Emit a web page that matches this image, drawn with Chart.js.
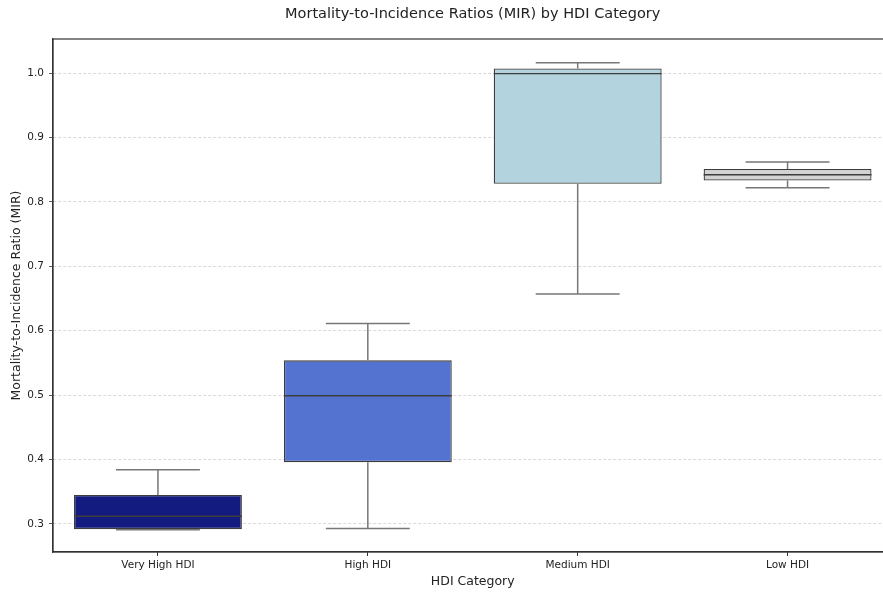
<!DOCTYPE html>
<html>
<head>
<meta charset="utf-8">
<script src="https://cdn.jsdelivr.net/npm/chart.js@4"></script>
<style>
  html, body { margin: 0; padding: 0; background: #fff; overflow: hidden; }
  #wrap { width: 883px; height: 592px; overflow: hidden; }
</style>
</head>
<body>
<div id="wrap"><canvas id="mirChart" width="893" height="592"></canvas></div>
<script>
// Data
const categories = ['Very High HDI', 'High HDI', 'Medium HDI', 'Low HDI'];
const whiskerLow = [0.291, 0.293, 0.657, 0.822];
const q1Values = [0.292, 0.396, 0.828, 0.833];
const medians = [0.312, 0.499, 0.999, 0.842];
const q3Values = [0.345, 0.554, 1.007, 0.851];
const whiskerHigh = [0.384, 0.611, 1.016, 0.862];
const yTicks = [0.3, 0.4, 0.5, 0.6, 0.7, 0.8, 0.9, 1.0];
const chartTitle = 'Mortality-to-Incidence Ratios (MIR) by HDI Category';

const boxColors = ['#131a80', '#5472d0', '#b3d4df', '#d3d3d3'];
const edgeColor = '#3d3d3d';
const whiskerColor = '#777777';
const font = 'DejaVu Sans';

// Whiskers, caps, medians, frame and title drawn on top of the floating bars
const boxExtras = {
    id: 'boxExtras',
    afterDatasetsDraw(chart) {
        const ctx = chart.ctx;
        const y = chart.scales.y;
        const meta = chart.getDatasetMeta(0);
        ctx.save();
        meta.data.forEach((bar, i) => {
            const cx = bar.x;
            const half = bar.width / 2;
            const capHalf = half / 2;
            const yLow = y.getPixelForValue(whiskerLow[i]);
            const yQ1 = y.getPixelForValue(q1Values[i]);
            const yQ3 = y.getPixelForValue(q3Values[i]);
            const yHigh = y.getPixelForValue(whiskerHigh[i]);
            const yMed = y.getPixelForValue(medians[i]);

            ctx.strokeStyle = whiskerColor;
            ctx.lineWidth = 1.5;
            ctx.beginPath();
            ctx.moveTo(cx, yQ3); ctx.lineTo(cx, yHigh);
            ctx.moveTo(cx, yQ1); ctx.lineTo(cx, yLow);
            ctx.moveTo(cx - capHalf, yHigh); ctx.lineTo(cx + capHalf, yHigh);
            ctx.moveTo(cx - capHalf, yLow); ctx.lineTo(cx + capHalf, yLow);
            ctx.stroke();

            ctx.strokeStyle = edgeColor;
            ctx.lineWidth = 1.4;
            ctx.beginPath();
            ctx.moveTo(cx - half, yMed); ctx.lineTo(cx + half, yMed);
            ctx.stroke();
        });

        // frame around the plot area
        const a = chart.chartArea;
        ctx.strokeStyle = '#333333';
        ctx.lineWidth = 1.2;
        ctx.strokeRect(a.left, a.top, a.right - a.left, a.bottom - a.top);

        // title centred over the plot area
        ctx.fillStyle = '#222222';
        ctx.font = '14.5px "' + font + '"';
        ctx.textAlign = 'center';
        ctx.textBaseline = 'middle';
        ctx.fillText(chartTitle, (a.left + a.right) / 2, 14.5);
        ctx.restore();
    }
};

const ctx = document.getElementById('mirChart').getContext('2d');
new Chart(ctx, {
    type: 'bar',
    data: {
        labels: categories,
        datasets: [{
            data: categories.map((c, i) => [q1Values[i], q3Values[i]]),
            backgroundColor: boxColors,
            borderColor: edgeColor,
            borderWidth: 1.3,
            borderSkipped: false,
            barPercentage: 0.8,
            categoryPercentage: 1.0
        }]
    },
    options: {
        responsive: false,
        animation: false,
        devicePixelRatio: 1,
        layout: { padding: { top: 39, right: 0.5, bottom: 0, left: 0 } },
        plugins: {
            legend: { display: false },
            tooltip: { enabled: false },
            title: { display: false }
        },
        scales: {
            x: {
                offset: true,
                afterFit(scale) { scale.height = 40; },
                grid: {
                    offset: false,
                    drawOnChartArea: false,
                    drawTicks: true,
                    tickLength: 4,
                    tickColor: '#333333'
                },
                border: { display: true, color: '#333333', width: 1.2 },
                ticks: {
                    color: '#222222',
                    padding: 3,
                    maxRotation: 0,
                    font: { family: font, size: 10.5 }
                },
                title: {
                    display: true,
                    text: 'HDI Category',
                    color: '#222222',
                    font: { family: font, size: 12.5 },
                    padding: { top: 0, bottom: 3 }
                }
            },
            y: {
                min: 0.2565,
                max: 1.0528,
                afterFit(scale) { scale.width = 53; },
                afterBuildTicks(scale) { scale.ticks = yTicks.map(v => ({ value: v })); },
                grid: {
                    color: '#cfcfcf',
                    lineWidth: 0.8,
                    tickLength: 4,
                    tickColor: '#333333',
                    tickBorderDash: []
                },
                border: { display: true, color: '#333333', width: 1.2, dash: [3, 2] },
                ticks: {
                    color: '#222222',
                    padding: 5,
                    font: { family: font, size: 10.5 },
                    callback: (v) => Number(v).toFixed(1)
                },
                title: {
                    display: true,
                    text: 'Mortality-to-Incidence Ratio (MIR)',
                    color: '#222222',
                    font: { family: font, size: 12.5 },
                    padding: { top: 9, bottom: 0 }
                }
            }
        }
    },
    plugins: [boxExtras]
});
</script>
</body>
</html>
